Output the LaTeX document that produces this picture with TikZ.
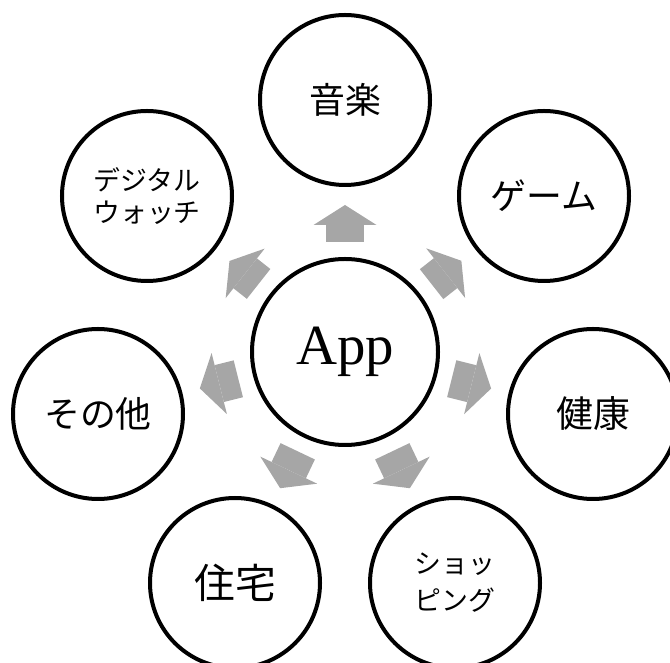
\documentclass[tikz,border=0pt]{standalone}
\usepackage{fontspec}
\setmainfont{Liberation Serif}
\newfontfamily\jp{Noto Sans CJK JP}
\usetikzlibrary{arrows.meta}
\definecolor{arrgray}{RGB}{166,166,166}
\begin{document}
\begin{tikzpicture}[x=1bp,y=1bp,
  hub/.style={circle,draw=black,line width=4bp,minimum size=186bp,inner sep=0pt,outer sep=0pt,font=\fontsize{57}{60}\selectfont},
  topic/.style={circle,draw=black,line width=4bp,minimum size=170bp,inner sep=0pt,outer sep=0pt,align=center},
  big/.style={font=\jp\fontsize{36}{40}\selectfont},
  small/.style={font=\jp\fontsize{27}{#1}\selectfont},
  blockarr/.style={draw=arrgray,line width=38bp,line cap=butt,-{Triangle[width=63bp,length=20bp,line width=0pt]},shorten <=17bp,shorten >=20bp}]
\useasboundingbox (0,0) rectangle (670,663);
\node[hub] (app) at (345,311) {App};
\node[topic,big] (music) at (345,563) {音楽};
\node[topic,big] (game) at (544,467) {ゲーム};
\node[topic,font=\jp\fontsize{37}{40}\selectfont] (health) at (593,249) {健康};
\node[topic,small=37] (shop) at (455,80) {ショッ\\ピング};
\node[topic,font=\jp\fontsize{41}{44}\selectfont] (house) at (235,80) {住宅};
\node[topic,big] (other) at (98,249) {その他};
\node[topic,small=33] (watch) at (147,467) {デジタル\\ウォッチ};
\foreach \t in {music,game,health,shop,house,other,watch}
  \draw[blockarr] (app) -- (\t);
\end{tikzpicture}
\end{document}
